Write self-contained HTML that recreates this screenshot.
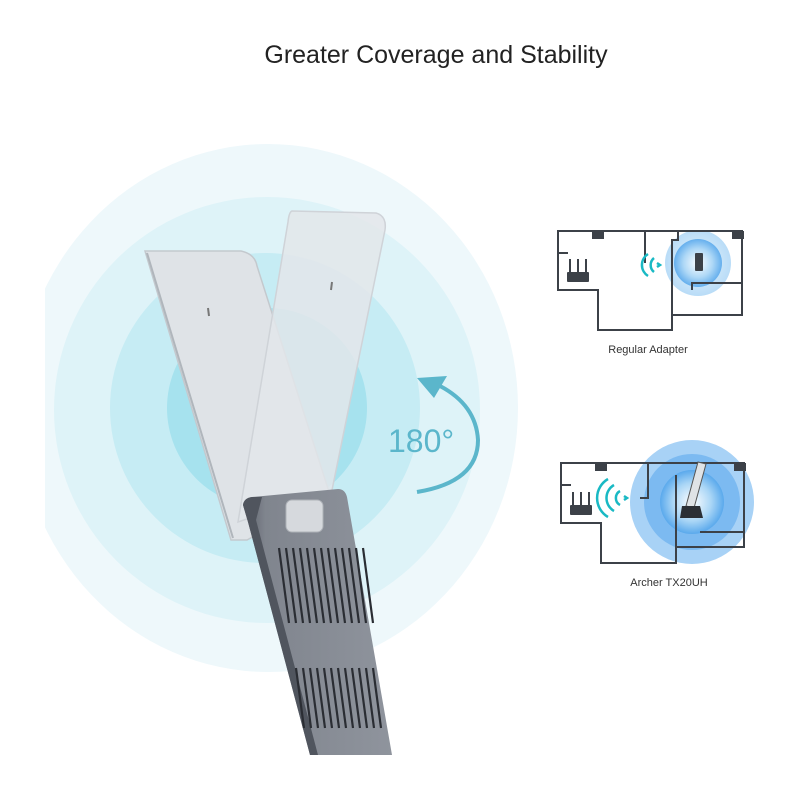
<!DOCTYPE html>
<html><head><meta charset="utf-8"><style>
html,body{margin:0;padding:0;background:#fff;}
body{width:800px;height:800px;overflow:hidden;font-family:"Liberation Sans",sans-serif;}
</style></head><body>
<svg width="800" height="800" viewBox="0 0 800 800" xmlns="http://www.w3.org/2000/svg">
<defs>
<clipPath id="cl"><rect x="45" y="0" width="755" height="800"/></clipPath>
<radialGradient id="bg1"><stop offset="0" stop-color="#eaf6fd"/><stop offset="1" stop-color="#b9dcf7"/></radialGradient>
<radialGradient id="bg2"><stop offset="0" stop-color="#ffffff"/><stop offset="0.6" stop-color="#aad6f6"/><stop offset="1" stop-color="#5aa9ec"/></radialGradient>
<linearGradient id="base" x1="0" y1="0" x2="1" y2="0"><stop offset="0" stop-color="#5a5f69"/><stop offset="0.15" stop-color="#80858e"/><stop offset="1" stop-color="#8f949d"/></linearGradient>
</defs>
<text x="436" y="63" font-size="25" text-anchor="middle" fill="#222">Greater Coverage and Stability</text>
<g clip-path="url(#cl)">
<ellipse cx="268" cy="408" rx="250" ry="264" fill="#eef8fb"/>
<circle cx="267" cy="410" r="213" fill="#def3f8"/>
<circle cx="265" cy="408" r="155" fill="#c6ecf4"/>
<circle cx="267" cy="408" r="100" fill="#a6e2ee"/>
</g>
<!-- left panel -->
<path d="M145 251 L241 251 Q255 254 257 266 L330 495 L247 540 L231 540 Z" fill="#dfe3e7" stroke="#c4c9ce" stroke-width="1.5"/>
<path d="M147 253 L233 538" stroke="#b0b6bc" stroke-width="2"/>
<!-- right panel -->
<path d="M292 211 L376 213 Q387 216 385 230 L332 490 L238 522 L288 222 Q289 212 292 211 Z" fill="#e3e6ea" fill-opacity="0.85" stroke="#cfd3d8" stroke-width="1.5"/>
<path d="M208 308 l1 8 M332 282 l-1 8" stroke="#777" stroke-width="2"/>
<!-- base -->
<path d="M243 505 Q244 498 252 497 L338 489 Q345 489 347 497 L392 755 L310 755 L248 522 Z" fill="url(#base)"/>
<path d="M243 505 Q244 498 252 497 L262 497 L256 520 L318 755 L310 755 L248 522 Z" fill="#50555e"/>
<rect x="286" y="500" width="37" height="32" rx="6" fill="#d6d9dd" stroke="#aeb2b8"/>
<g stroke="#2a2d33" stroke-width="2.2">
<path d="M279 548 l10 75 M286 548 l10 75 M293 548 l10 75 M300 548 l10 75 M307 548 l10 75 M314 548 l10 75 M321 548 l10 75 M328 548 l10 75 M335 548 l10 75 M342 548 l10 75 M349 548 l10 75 M356 548 l10 75 M363 548 l10 75"/>
<path d="M296 668 l8 60 M303 668 l8 60 M310 668 l8 60 M317 668 l8 60 M324 668 l8 60 M331 668 l8 60 M338 668 l8 60 M345 668 l8 60 M352 668 l8 60 M359 668 l8 60 M366 668 l8 60 M373 668 l8 60"/>
</g>
<!-- arrow -->
<path d="M417 492 Q478 482 478 440 Q476 405 440 386" fill="none" stroke="#5bb6cb" stroke-width="4"/>
<path d="M417 378 L447 376 L434 398 Z" fill="#5bb6cb"/>
<text x="388" y="452" font-size="32" fill="#5bb6cb">180°</text>
<!-- upper plan -->
<circle cx="698" cy="263" r="33" fill="url(#bg1)"/>
<circle cx="698" cy="263" r="24" fill="url(#bg2)" opacity="0.9"/>
<g fill="none" stroke="#3c4148" stroke-width="2">
<path d="M558 231 L742 231 L742 315 L672 315 L672 330 L598 330 L598 290 L558 290 Z"/>
<path d="M558 253 L568 253 M645 231 L645 263 M678 231 L678 240 L672 240 L672 330 M692 290 L692 283 L742 283"/>
</g>
<rect x="592" y="231" width="12" height="8" fill="#3c4148"/><rect x="732" y="231" width="12" height="8" fill="#3c4148"/>
<rect x="567" y="272" width="22" height="10" rx="1" fill="#3c4148"/>
<path d="M570 272 v-13 M578 272 v-13 M586 272 v-13" stroke="#3c4148" stroke-width="2"/>
<rect x="695" y="253" width="8" height="18" rx="1" fill="#3c4148"/>
<g fill="none" stroke="#19b9c4" stroke-width="2.5">
<path d="M654 258 a9 9 0 0 0 0 14"/><path d="M648 254 a13 13 0 0 0 0 22"/><path d="M657 263 l3 2 l-3 2"/>
</g>
<text x="648" y="353" font-size="11" text-anchor="middle" fill="#333">Regular Adapter</text>
<!-- lower plan -->
<circle cx="692" cy="502" r="62" fill="#a8d2f6"/>
<circle cx="692" cy="502" r="48" fill="#7cbaf1"/>
<circle cx="692" cy="502" r="32" fill="url(#bg2)"/>
<g fill="none" stroke="#3c4148" stroke-width="2">
<path d="M561 463 L744 463 L744 547 L676 547 L676 563 L601 563 L601 523 L561 523 Z"/>
<path d="M561 485 L571 485 M648 463 L648 498 L640 498 M676 475 L676 563 M700 532 L744 532"/>
</g>
<rect x="595" y="463" width="12" height="8" fill="#3c4148"/><rect x="734" y="463" width="12" height="8" fill="#3c4148"/>
<rect x="570" y="505" width="22" height="10" rx="1" fill="#3c4148"/>
<path d="M573 505 v-13 M581 505 v-13 M589 505 v-13" stroke="#3c4148" stroke-width="2"/>
<path d="M698 462 L706 464 L694 508 L686 506 Z" fill="#dfe3e6" stroke="#555" stroke-width="1"/>
<path d="M680 518 L682 506 L700 506 L703 518 Z" fill="#2b2f35"/>
<g fill="none" stroke="#19b9c4" stroke-width="2.5">
<path d="M620 491 a8 8 0 0 0 0 14"/><path d="M614 485 a15 15 0 0 0 0 26"/><path d="M608 479 a22 22 0 0 0 0 38"/><path d="M624 496 l3 2 l-3 2"/>
</g>
<text x="669" y="586" font-size="11" text-anchor="middle" fill="#333">Archer TX20UH</text>
</svg>
</body></html>
